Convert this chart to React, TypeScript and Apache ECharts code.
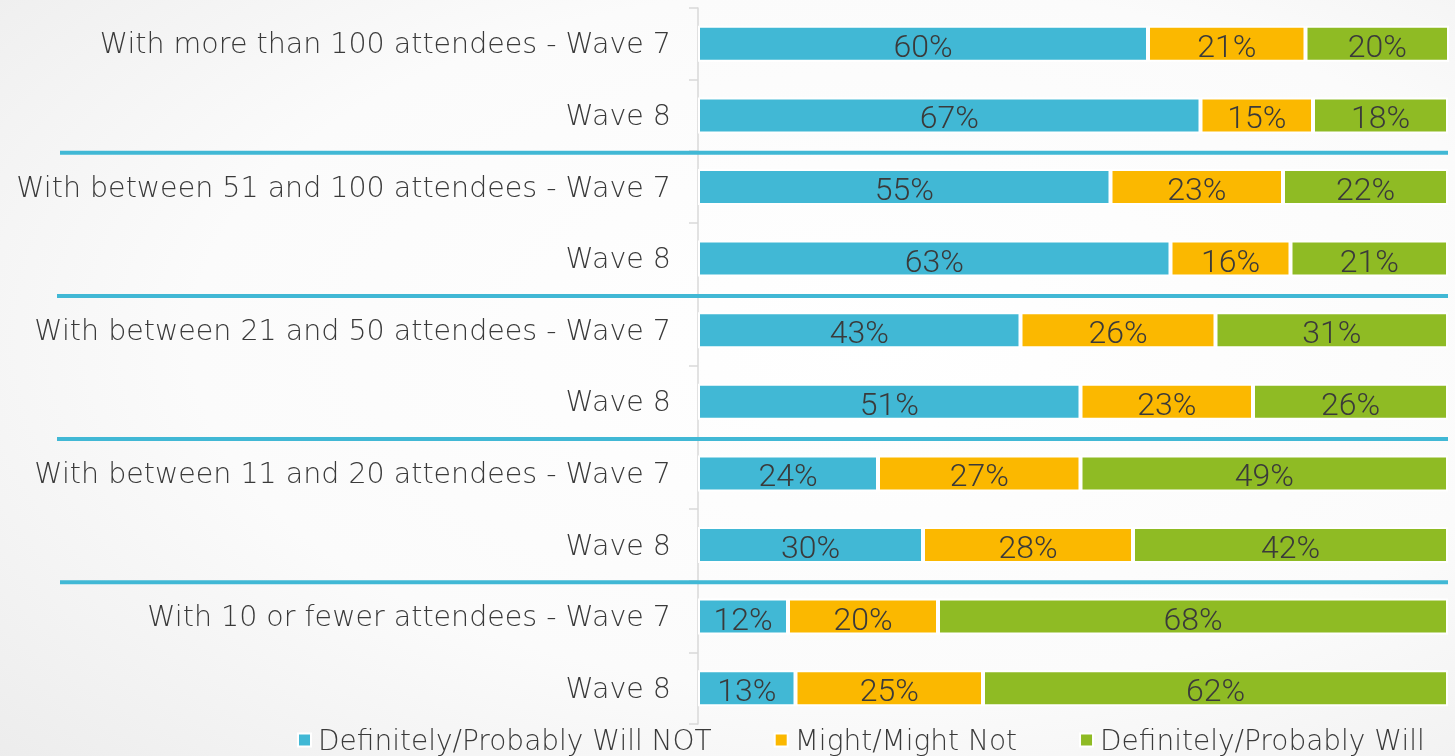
import React, { useEffect, useRef } from "react";
import * as echarts from "echarts";

const categories = [
  "With more than 100 attendees - Wave 7",
  "Wave 8 ",
  "With between 51 and 100 attendees - Wave 7",
  "Wave 8  ",
  "With between 21 and 50 attendees - Wave 7",
  "Wave 8   ",
  "With between 11 and 20 attendees - Wave 7",
  "Wave 8    ",
  "With 10 or fewer attendees - Wave 7",
  "Wave 8",
];

const willNot = [60, 67, 55, 63, 43, 51, 24, 30, 12, 13];
const mightNot = [21, 15, 23, 16, 26, 23, 27, 28, 20, 25];
const will = [20, 18, 22, 21, 31, 26, 49, 42, 68, 62];

const seriesNames = [
  "Definitely/Probably Will NOT",
  "Might/Might Not",
  "Definitely/Probably Will",
];
const seriesColors = ["#41b8d5", "#fbb800", "#8fbb24"];
const seriesData = [willNot, mightNot, will];

// separators sit between these category pairs (index of the upper one)
const groupBreaks = [1, 3, 5, 7];

const TEXT = "#3a3a3a";
const FONT = "'DejaVu Sans', sans-serif";

export default function App() {
  const ref = useRef<HTMLDivElement>(null);

  useEffect(() => {
    if (!ref.current) return;
    const chart = echarts.init(ref.current, undefined, { renderer: "svg" });

    const option: any = {
      animation: false,
      backgroundColor: {
        type: "radial",
        x: 0.6,
        y: 0.45,
        r: 0.85,
        colorStops: [
          { offset: 0, color: "#ffffff" },
          { offset: 0.55, color: "#fbfbfb" },
          { offset: 1, color: "#ebebeb" },
        ],
      },
      grid: { left: 698, right: 7, top: 8, bottom: 32, containLabel: false },
      xAxis: {
        type: "value",
        min: 0,
        max: 100,
        show: false,
      },
      yAxis: {
        type: "category",
        inverse: true,
        data: categories,
        axisLine: { show: true, lineStyle: { color: "#d9d9d9", width: 1.5 } },
        axisTick: { show: true, length: 9, lineStyle: { color: "#d9d9d9", width: 1.5 } },
        axisLabel: {
          color: TEXT,
          fontFamily: FONT,
          fontWeight: 200,
          fontSize: 28.5,
          margin: 27,
          formatter: (v: string) => v.trim(),
        },
      },
      legend: {
        left: 297,
        top: 726,
        padding: 0,
        itemGap: 62,
        itemWidth: 13,
        itemHeight: 13,
        icon: "rect",
        textStyle: {
          color: TEXT,
          fontFamily: FONT,
          fontWeight: 200,
          fontSize: 28,
          padding: [0, 0, 0, 2],
        },
        data: seriesNames,
      },
      series: seriesNames.map((name, i) => ({
        name,
        type: "bar",
        stack: "total",
        barWidth: 36,
        data: seriesData[i],
        itemStyle: { color: seriesColors[i], borderColor: "#ffffff", borderWidth: 2 },
        label: {
          show: true,
          position: "inside",
          offset: [0, 2],
          formatter: "{c}%",
          color: TEXT,
          fontFamily: "Roboto, sans-serif",
          fontWeight: 300,
          fontSize: 32,
        },
      })),
    };

    chart.setOption(option);

    // blue rules between the attendee-size groups
    const lines = groupBreaks.map((idx, k) => {
      const a = chart.convertToPixel({ yAxisIndex: 0 }, categories[idx]) as number;
      const b = chart.convertToPixel({ yAxisIndex: 0 }, categories[idx + 1]) as number;
      const y = (a + b) / 2 + 1.5;
      const x1 = k === 0 || k === 3 ? 60 : 57;
      return {
        type: "line",
        shape: { x1, y1: y, x2: 1448, y2: y },
        style: { stroke: "#41b8d5", lineWidth: 4 },
        z: 10,
      };
    });
    chart.setOption({ graphic: lines });

    return () => chart.dispose();
  }, []);

  return (
    <div
      ref={ref}
      style={{ position: "fixed", left: 0, top: 0, width: 1455, height: 756 }}
    />
  );
}
